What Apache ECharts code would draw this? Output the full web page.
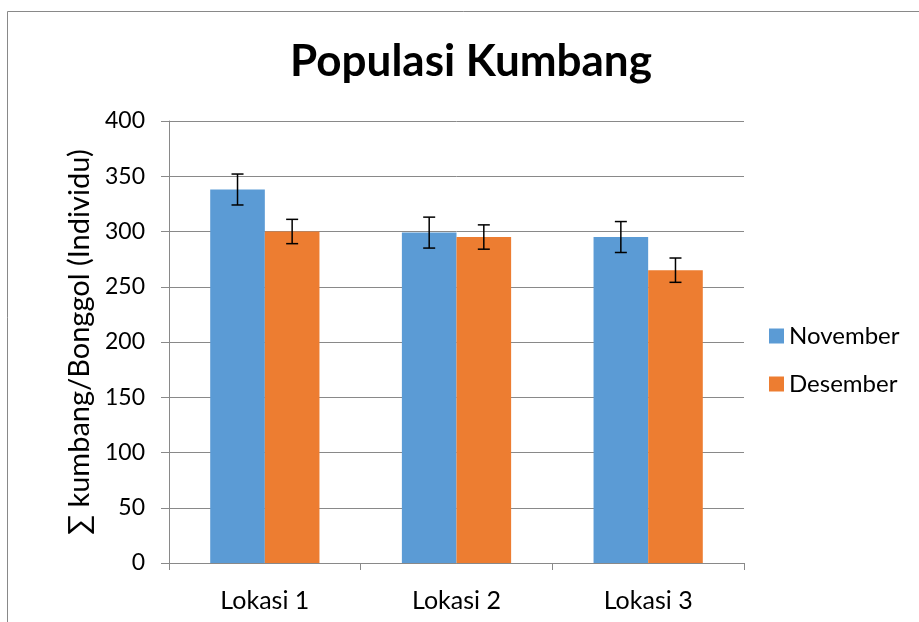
<!DOCTYPE html>
<html>
<head>
<meta charset="utf-8">
<script src="https://cdn.jsdelivr.net/npm/echarts@6/dist/echarts.min.js"></script>
<style>
  html, body { margin: 0; padding: 0; background: #fff; }
  #chart { width: 919px; height: 622px; }
</style>
</head>
<body>
<div id="chart"></div>
<script>
// Beetle population per location, two survey months, with error margins
const categories = ['Lokasi 1', 'Lokasi 2', 'Lokasi 3'];
const seriesNames = ['November', 'Desember'];
const novemberValues = [338, 299, 295];
const desemberValues = [300, 295, 265];
const novemberErrors = [14, 14, 14];
const desemberErrors = [11, 11, 11];
const yTicks = [0, 50, 100, 150, 200, 250, 300, 350, 400];
const chartTitle = 'Populasi Kumbang';

const FONT = 'Lato, "Open Sans", sans-serif';
const colors = ['#5B9BD5', '#ED7D31'];

const chart = echarts.init(document.getElementById('chart'), null, { renderer: 'canvas' });

// Error whiskers drawn on top of the bars; seriesIdx picks the bar slot
function errorRender(seriesIdx, values, errors) {
  return function (params, api) {
    const i = api.value(0);
    const v = values[i], e = errors[i];
    const center = api.coord([i, v]);
    const band = api.size([1, 0])[0];
    const barW = band * (1 - 0.43) / 2;
    const x = center[0] + (seriesIdx === 0 ? -barW / 2 : barW / 2);
    const top = api.coord([i, v + e])[1];
    const bot = api.coord([i, v - e])[1];
    const cap = 6;
    const style = { stroke: '#000', lineWidth: 1.5 };
    return {
      type: 'group',
      children: [
        { type: 'line', shape: { x1: x, y1: top, x2: x, y2: bot }, style },
        { type: 'line', shape: { x1: x - cap, y1: top, x2: x + cap, y2: top }, style },
        { type: 'line', shape: { x1: x - cap, y1: bot, x2: x + cap, y2: bot }, style }
      ]
    };
  };
}

chart.setOption({
  animation: false,
  backgroundColor: '#fff',
  legend: {
    data: seriesNames,
    orient: 'vertical',
    left: 764,
    top: 319,
    itemWidth: 15,
    itemHeight: 15,
    itemGap: 24,
    icon: 'rect',
    textStyle: { fontFamily: FONT, fontSize: 24, color: '#000' }
  },
  grid: { left: 169, right: 175, top: 121, bottom: 59, containLabel: false },
  xAxis: {
    type: 'category',
    data: categories,
    axisLine: { lineStyle: { color: '#898989', width: 1 } },
    axisTick: { show: true, length: 7, lineStyle: { color: '#898989' } },
    axisLabel: { fontFamily: FONT, fontSize: 25, color: '#000', margin: 25 }
  },
  yAxis: {
    type: 'value',
    min: yTicks[0],
    max: yTicks[yTicks.length - 1],
    interval: 50,
    name: '\u2211 kumbang/Bonggol (Individu)',
    nameLocation: 'middle',
    nameGap: 74,
    nameTextStyle: { fontFamily: FONT, fontSize: 29, color: '#000' },
    axisLine: { show: true, lineStyle: { color: '#898989', width: 1 } },
    axisTick: { show: true, length: 8, lineStyle: { color: '#898989' } },
    axisLabel: { fontFamily: FONT, fontSize: 23, color: '#000', margin: 24 },
    splitLine: { lineStyle: { color: '#898989', width: 1 } }
  },
  series: [
    {
      name: seriesNames[0], type: 'bar', data: novemberValues,
      itemStyle: { color: colors[0] }, barGap: '0%', barCategoryGap: '43%'
    },
    {
      name: seriesNames[1], type: 'bar', data: desemberValues,
      itemStyle: { color: colors[1] }, barGap: '0%', barCategoryGap: '43%'
    },
    {
      type: 'custom', renderItem: errorRender(0, novemberValues, novemberErrors),
      data: categories.map((c, i) => [i]), z: 10, silent: true
    },
    {
      type: 'custom', renderItem: errorRender(1, desemberValues, desemberErrors),
      data: categories.map((c, i) => [i]), z: 10, silent: true
    }
  ],
  graphic: [
    {
      type: 'rect', left: 5, top: 9, silent: true, z: -1,
      shape: { width: 1000, height: 1000 },
      style: { fill: 'none', stroke: '#898989', lineWidth: 1 }
    },
    {
      type: 'text', x: 471, y: 62, silent: true,
      style: {
        text: chartTitle, fontFamily: FONT, fontSize: 44, fontWeight: 'bold',
        fill: '#000', align: 'center', verticalAlign: 'middle'
      }
    }
  ]
});
</script>
</body>
</html>
